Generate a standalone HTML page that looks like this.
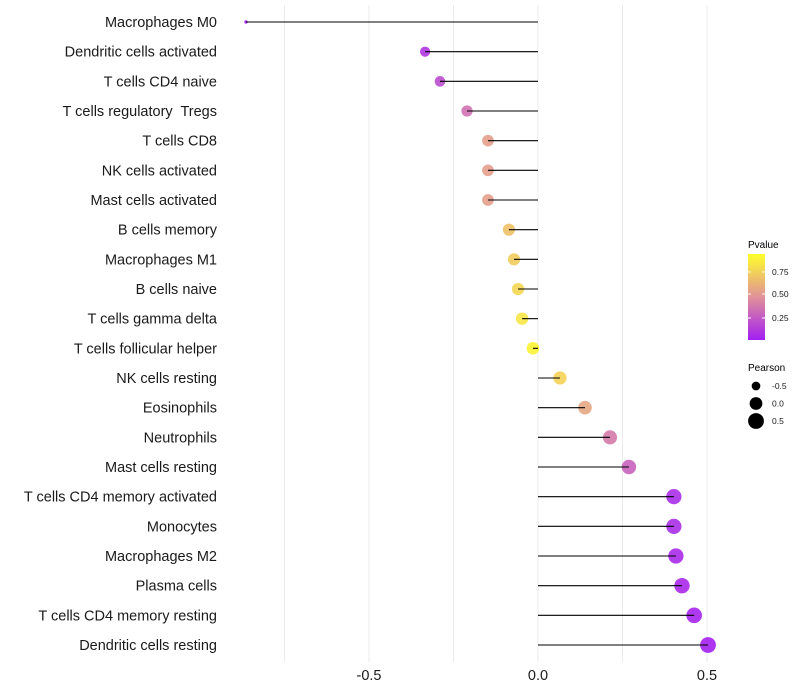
<!DOCTYPE html>
<html><head><meta charset="utf-8"><style>
body{margin:0;background:#fff;font-family:"Liberation Sans",sans-serif}
svg{display:block}
text{white-space:pre}
</style></head><body>
<svg id="chart" width="800" height="700" xmlns="http://www.w3.org/2000/svg">
<defs><linearGradient id="pg" x1="0" y1="1" x2="0" y2="0">
<stop offset="0" stop-color="#a31ff2"/><stop offset="0.5" stop-color="#e09199"/><stop offset="1" stop-color="#ffff2a"/>
</linearGradient></defs>
<g id="grid"></g><g id="marks"></g><g id="labels"></g><g id="xticks"></g>
<g>
<text x="748" y="248" font-size="10" fill="#000">Pvalue</text>
<rect x="748" y="254" width="17" height="86" fill="url(#pg)"/>
<g id="cbticks"></g>
</g>
<g>
<text x="748" y="371" font-size="10" fill="#000">Pearson</text>
<g id="sizeleg"></g>
</g>
</svg>
<script>
const cells=["Macrophages M0","Dendritic cells activated","T cells CD4 naive","T cells regulatory  Tregs","T cells CD8","NK cells activated","Mast cells activated","B cells memory","Macrophages M1","B cells naive","T cells gamma delta","T cells follicular helper","NK cells resting","Eosinophils","Neutrophils","Mast cells resting","T cells CD4 memory activated","Monocytes","Macrophages M2","Plasma cells","T cells CD4 memory resting","Dendritic cells resting"];
const pearson=[-0.864,-0.334,-0.29,-0.21,-0.148,-0.148,-0.148,-0.086,-0.071,-0.059,-0.047,-0.015,0.065,0.139,0.213,0.269,0.402,0.402,0.408,0.426,0.462,0.503];
const pvals=[0.0,0.1,0.2,0.36,0.56,0.56,0.56,0.72,0.77,0.82,0.88,0.95,0.8,0.6,0.4,0.3,0.06,0.06,0.05,0.04,0.02,0.01];
const xTicks=[-0.5,0.0,0.5];
const xTickLabels=["-0.5","0.0","0.5"];
const cbTicks=[0.25,0.5,0.75];
const cbTickLabels=["0.25","0.50","0.75"];
const sizeVals=[-0.5,0,0.5];
const sizeLabels=["-0.5","0.0","0.5"];
const NS="http://www.w3.org/2000/svg";
const X=v=>538+338*v, Y=i=>22+i*(623/21);
const R=v=>1.13*Math.sqrt(Math.max(1,2.25+34.2*(v+0.864)));
function col(p){const s=[[0,[163,31,242]],[0.5,[224,145,153]],[1,[255,255,42]]];
 let a=s[0],b=s[1];if(p>0.5){a=s[1];b=s[2];}const t=(p-a[0])/(b[0]-a[0]);
 return "rgb("+a[1].map((c,k)=>Math.round(c+(b[1][k]-c)*t)).join(",")+")";}
function mk(t,at,par){const e=document.createElementNS(NS,t);for(const k in at)e.setAttribute(k,at[k]);document.getElementById(par).appendChild(e);return e;}
[-0.75,-0.5,-0.25,0,0.25,0.5].forEach(v=>{const l=mk("line",{x1:X(v),x2:X(v),y1:5,y2:662,stroke:"#ebebeb","stroke-width":1},"grid");

});
cells.forEach((c,i)=>{const y=Y(i);
 const d=mk("circle",{cx:X(pearson[i]),cy:y,r:R(pearson[i]),fill:col(pvals[i]),"fill-opacity":0.9},"marks");
 
 
 const l=mk("line",{x1:X(0),x2:X(pearson[i]),y1:y,y2:y,stroke:"#000","stroke-width":1.1},"marks");
 
 
 const t=mk("text",{x:217,y:y+5,"text-anchor":"end","font-size":14.5,fill:"#1a1a1a"},"labels");
 t.textContent=c;
 
 });
xTicks.forEach((v,i)=>{const t=mk("text",{x:X(v),y:680,"text-anchor":"middle","font-size":14.5,fill:"#1a1a1a"},"xticks");
 t.textContent=xTickLabels[i];
 
 });
cbTicks.forEach((p,i)=>{
 const yt=[318,294,272][i];
 mk("line",{x1:748,x2:751,y1:yt,y2:yt,stroke:"#fff"},"cbticks");mk("line",{x1:762,x2:765,y1:yt,y2:yt,stroke:"#fff"},"cbticks");
 const t=mk("text",{x:772,y:yt+3,"font-size":8.5,fill:"#1a1a1a"},"cbticks");
 t.textContent=cbTickLabels[i];
 
 });
sizeVals.forEach((v,i)=>{const y=386+i*17.5;
 const c=mk("circle",{cx:756,cy:y,r:R(v),fill:"#000"},"sizeleg");
 
 
 const t=mk("text",{x:772,y:y+3,"font-size":8.5,fill:"#1a1a1a"},"sizeleg");
 t.textContent=sizeLabels[i];
 
 });
</script>
</body></html>
